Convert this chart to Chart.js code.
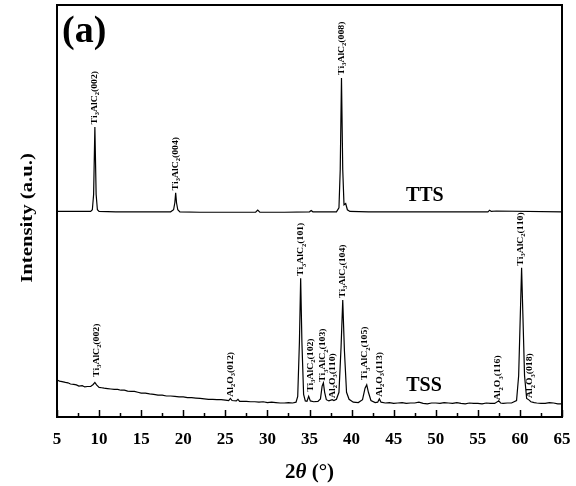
<!DOCTYPE html>
<html>
<head>
<meta charset="utf-8">
<script src="https://cdn.jsdelivr.net/npm/chart.js@4"></script>
<style>
  body { margin: 0; background: #fff; }
</style>
</head>
<body>
<canvas id="xrd" width="576" height="486"></canvas>
<script>
// TTS pattern (offset upward)
const ttsAngle = [5, 7, 9, 9.2, 9.35, 9.5, 9.65, 9.8, 10, 12, 15, 18.5, 18.85, 19.0, 19.1, 19.2, 19.35, 19.6,
  22, 25, 28.6, 28.85, 29.1, 32, 35, 35.2, 35.4, 38.2, 38.5, 38.65, 38.8, 38.95, 39.1, 39.3, 39.5, 39.8,
  42, 50, 56.2, 56.4, 56.6, 57.2, 65];
const ttsIntensity = [49.9, 49.9, 49.9, 50.3, 54, 70.4, 54, 50.3, 49.9, 49.8, 49.8, 49.8, 50.3, 52, 54.4, 52, 50.3, 49.8,
  49.7, 49.7, 49.7, 50.2, 49.7, 49.7, 49.8, 50.1, 49.8, 49.8, 50.8, 60, 82.3, 60, 51.5, 51.8, 50.3, 49.9,
  49.8, 49.8, 49.8, 50.2, 49.9, 50.0, 49.8];

// TSS pattern
const tssAngle = [5, 5.3, 5.6, 6, 6.3, 6.6, 7, 7.3, 7.6, 8, 8.3, 8.6, 9, 9.3, 9.5, 9.7, 10, 10.3, 10.6, 11, 11.4, 11.8,
  12.2, 12.6, 13, 13.4, 13.8, 14.2, 14.6, 15, 15.5, 16, 16.5, 17, 17.5, 18, 18.5, 19, 19.5, 20, 20.5, 21, 21.5,
  22, 22.5, 23, 23.5, 24, 24.5, 25, 25.4, 25.6, 25.8, 26.3, 26.5, 26.7, 27, 27.5, 28, 28.5, 29, 29.5, 30, 30.5,
  31, 31.5, 32, 32.5, 33,
  33.4, 33.6, 33.8, 33.95, 34.1, 34.3, 34.5, 34.7, 34.9, 35.1, 35.5, 36.0, 36.3, 36.5, 36.65, 36.8, 37.0, 37.3,
  37.7, 37.9, 38.2, 38.5, 38.75, 38.95, 39.15, 39.4, 39.7, 40.2, 40.8, 41.3, 41.6, 41.8, 42.0, 42.3, 42.8,
  43.1, 43.3, 43.5, 44, 44.5, 45, 45.5, 46, 46.5, 47, 47.5, 48, 48.5, 49, 49.5, 50, 50.5, 51, 51.5, 52, 52.5,
  53, 53.5, 54, 54.5, 55, 55.5, 56, 56.5, 57, 57.4, 57.5, 57.7, 58, 58.5, 59, 59.6,
  59.85, 60.05, 60.2, 60.35, 60.55, 60.8, 61.1, 61.3, 61.7, 62, 62.5, 63, 63.5, 64, 64.5, 65];
const tssIntensity = [9.0, 8.7, 8.6, 8.4, 8.3, 8.0, 7.9, 7.8, 7.5, 7.6, 7.3, 7.4, 7.4, 7.9, 8.4, 7.8, 7.2, 7.1, 7.0, 6.9, 6.8, 6.7,
  6.7, 6.5, 6.5, 6.3, 6.2, 6.2, 6.0, 5.8, 5.8, 5.6, 5.5, 5.3, 5.3, 5.1, 5.1, 5.0, 4.9, 4.9, 4.7, 4.7, 4.6,
  4.5, 4.4, 4.3, 4.3, 4.2, 4.2, 4.1, 4.0, 4.5, 4.0, 3.9, 4.3, 3.8, 3.8, 3.8, 3.7, 3.7, 3.6, 3.7, 3.5, 3.6,
  3.5, 3.4, 3.4, 3.5, 3.4,
  3.6, 5, 18, 33.7, 18, 5.5, 3.9, 3.8, 5.0, 3.9, 3.7, 3.8, 4.4, 7.5, 8.3, 6, 4.2, 3.9,
  4.2, 4.0, 4.3, 6, 17, 28.4, 16, 6, 4.3, 3.6, 3.5, 4.2, 7.0, 7.8, 6.0, 4.0, 3.5,
  3.6, 4.4, 3.6, 3.4, 3.5, 3.3, 3.4, 3.5, 3.3, 3.4, 3.4, 3.6, 3.3, 3.2, 3.4, 3.4, 3.3, 3.5, 3.4, 3.3, 3.5,
  3.3, 3.2, 3.4, 3.3, 3.3, 3.2, 3.4, 3.3, 3.3, 3.8, 3.9, 3.4, 3.3, 3.4, 3.4, 4.0,
  10, 25, 36.2, 25, 10, 4.5, 4.1, 3.7, 3.5, 3.4, 3.3, 3.3, 3.5, 3.4, 3.2, 3.2];

// peak labels: angle, intensity at label foot, text (_ marks a subscript char)
const peakAngle = [9.5, 19.1, 38.8, 9.7, 25.6, 34.0, 35.1, 36.6, 37.7, 38.9, 41.6, 43.3, 57.4, 60.1, 61.2];
const peakLevel = [71, 55, 83, 9.7, 4.9, 34.2, 6.1, 8.5, 4.6, 28.9, 9.0, 4.9, 4.1, 36.7, 4.6];
const peakText = ["Ti_3AlC_2(002)", "Ti_3AlC_2(004)", "Ti_3AlC_2(008)", "Ti_3AlC_2(002)", "Al_2O_3(012)",
  "Ti_3AlC_2(101)", "Ti_3AlC_2(102)", "Ti_3AlC_2(103)", "Al_2O_3(110)", "Ti_3AlC_2(104)", "Ti_3AlC_2(105)",
  "Al_2O_3(113)", "Al_2O_3(116)", "Ti_3AlC_2(110)", "Al_2O_3(018)"];

const sampleNames = ["TTS", "TSS"];
const sampleAngle = [48.7, 48.6];
const sampleLevel = [53.6, 7.5];

const serif = "'Liberation Serif', 'Times New Roman', serif";

function toPoints(xs, ys) {
  return xs.map((x, i) => ({ x: x, y: ys[i] }));
}

function drawLabel(ctx, px, py, text) {
  ctx.save();
  ctx.translate(px, py);
  ctx.rotate(-Math.PI / 2);
  ctx.scale(1.08, 1);
  ctx.textBaseline = "middle";
  ctx.textAlign = "left";
  let x = 0;
  for (let i = 0; i < text.length; i++) {
    let ch = text[i];
    if (ch === "_") {
      ch = text[++i];
      ctx.font = "bold 6px " + serif;
      ctx.fillText(ch, x, 3);
    } else {
      ctx.font = "bold 9px " + serif;
      ctx.fillText(ch, x, 0);
    }
    x += ctx.measureText(ch).width;
  }
  ctx.restore();
}

const decorations = {
  id: "decorations",
  afterDatasetsDraw(chart) {
    const ctx = chart.ctx;
    const xs = chart.scales.x;
    const ys = chart.scales.y;
    const area = chart.chartArea;
    ctx.save();
    ctx.fillStyle = "#000";
    ctx.strokeStyle = "#000";

    // frame
    ctx.lineWidth = 2;
    ctx.strokeRect(area.left, area.top, area.right - area.left, area.bottom - area.top);

    // inward ticks
    ctx.lineWidth = 1.5;
    for (let v = 5; v <= 65; v += 2.5) {
      const px = Math.round(xs.getPixelForValue(v)) + 0.5;
      const len = (v % 5 === 0) ? 7 : 4;
      ctx.beginPath();
      ctx.moveTo(px, area.bottom);
      ctx.lineTo(px, area.bottom - len);
      ctx.stroke();
    }

    // peak labels
    peakAngle.forEach((a, i) => {
      drawLabel(ctx, xs.getPixelForValue(a), ys.getPixelForValue(peakLevel[i]), peakText[i]);
    });

    // sample names
    ctx.font = "bold 20px " + serif;
    ctx.textAlign = "center";
    ctx.textBaseline = "middle";
    sampleNames.forEach((s, i) => {
      ctx.fillText(s, xs.getPixelForValue(sampleAngle[i]), ys.getPixelForValue(sampleLevel[i]));
    });

    // panel letter
    ctx.font = "bold 38px " + serif;
    ctx.textAlign = "left";
    ctx.textBaseline = "top";
    ctx.fillText("(a)", area.left + 5, area.top + 8);

    // x title: 2θ (°)
    ctx.textBaseline = "middle";
    const cx = (area.left + area.right) / 2;
    const ty = 473;
    const parts = [["bold 21px ", "2"], ["bold italic 21px ", "θ"], ["bold 21px ", " (°)"]];
    let total = 0;
    parts.forEach(p => { ctx.font = p[0] + serif; total += ctx.measureText(p[1]).width; });
    let x = cx - total / 2;
    parts.forEach(p => { ctx.font = p[0] + serif; ctx.fillText(p[1], x, ty); x += ctx.measureText(p[1]).width; });

    // y title
    ctx.save();
    ctx.translate(28, 218);
    ctx.rotate(-Math.PI / 2);
    ctx.scale(1.22, 1);
    ctx.textAlign = "center";
    ctx.font = "bold 17px " + serif;
    ctx.fillText("Intensity (a.u.)", 0, 0);
    ctx.restore();

    ctx.restore();
  }
};

new Chart(document.getElementById("xrd"), {
  type: "line",
  data: {
    datasets: [
      { label: "TTS", data: toPoints(ttsAngle, ttsIntensity), borderColor: "#000", borderWidth: 1.2, pointRadius: 0, tension: 0 },
      { label: "TSS", data: toPoints(tssAngle, tssIntensity), borderColor: "#000", borderWidth: 1.2, pointRadius: 0, tension: 0 },
    ],
  },
  options: {
    responsive: false,
    animation: false,
    layout: { padding: { top: 5, right: 14, left: 0, bottom: 0 } },
    plugins: { legend: { display: false }, tooltip: { enabled: false } },
    scales: {
      x: {
        type: "linear",
        min: 5,
        max: 65,
        grid: { display: false, drawTicks: false },
        border: { display: true, color: "#000", width: 2 },
        ticks: {
          stepSize: 5,
          autoSkip: false,
          maxRotation: 0,
          padding: 12,
          color: "#000",
          font: { family: serif, size: 17, weight: "bold" },
        },
        afterFit(scale) {
          scale.height = 69;
          scale.paddingLeft = 0;
          scale.paddingRight = 0;
        },
      },
      y: {
        min: 0,
        max: 100,
        grid: { display: false, drawTicks: false },
        border: { display: true, color: "#000", width: 2 },
        ticks: { display: false },
        afterFit(scale) { scale.width = 57; },
      },
    },
  },
  plugins: [decorations],
});
</script>
</body>
</html>
